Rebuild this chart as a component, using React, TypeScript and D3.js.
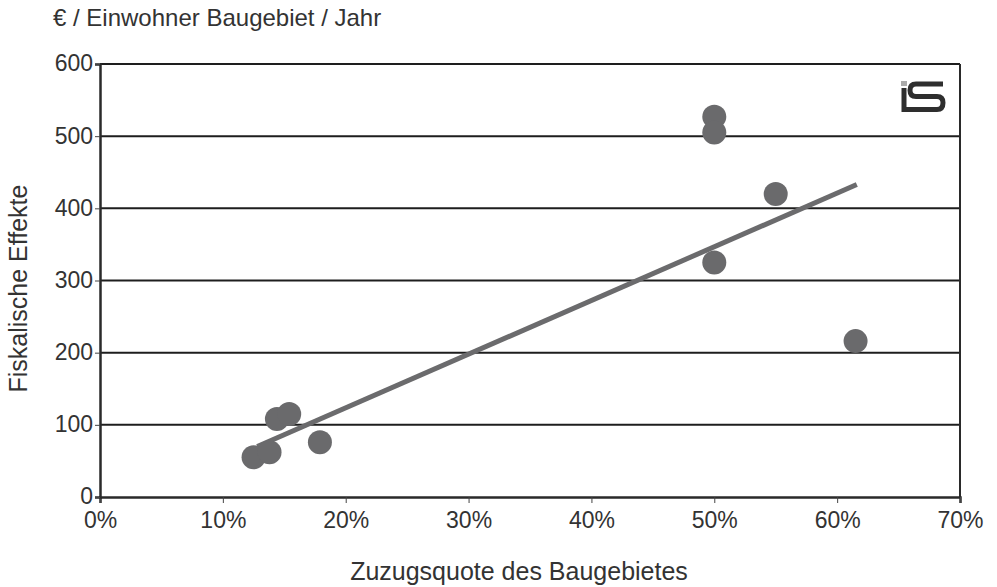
import React, { useEffect, useRef } from 'react';
import * as d3 from 'd3';

// Zuzugsquote (in %) und fiskalische Effekte (€ / Einwohner / Jahr)
const zuzugsquote = [12.5, 13.8, 14.4, 15.4, 17.9, 50.0, 50.0, 55.0, 50.0, 61.5];
const fiskalEffekte = [55, 62, 108, 115, 76, 527, 505, 420, 325, 216];

// Trendlinie: Anfangs- und Endpunkt
const trendX = [12.8, 61.6];
const trendY = [70, 433];

const xTicks = [0, 10, 20, 30, 40, 50, 60, 70];
const yTicks = [0, 100, 200, 300, 400, 500, 600];

const titleText = '€ / Einwohner Baugebiet / Jahr';
const xLabel = 'Zuzugsquote des Baugebietes';
const yLabel = 'Fiskalische Effekte';

const W = 997;
const H = 587;
const FONT = '"Liberation Sans", Arial, sans-serif';

const App = () => {
  const svgRef = useRef(null);

  useEffect(() => {
    const svg = d3.select(svgRef.current);
    svg.selectAll('*').remove();

    const margin = { top: 64, right: 37, bottom: 90, left: 100 };
    const x = d3.scaleLinear().domain([0, 70]).range([margin.left, W - margin.right]);
    const y = d3.scaleLinear().domain([0, 600]).range([H - margin.bottom, margin.top]);

    // Gitterlinien
    svg
      .append('g')
      .selectAll('line')
      .data(yTicks.filter((t) => t > 0))
      .enter()
      .append('line')
      .attr('x1', x(0))
      .attr('x2', x(70))
      .attr('y1', (d) => y(d))
      .attr('y2', (d) => y(d))
      .attr('stroke', '#1e1e1e')
      .attr('stroke-width', 2);

    // rechter Rahmen
    svg
      .append('line')
      .attr('x1', x(70))
      .attr('x2', x(70))
      .attr('y1', y(600))
      .attr('y2', y(0))
      .attr('stroke', '#2a2a2a')
      .attr('stroke-width', 2);

    // Achsen
    const xAxis = d3
      .axisBottom(x)
      .tickValues(xTicks)
      .tickSize(6)
      .tickFormat((d) => `${d}%`);
    const gx = svg.append('g').attr('transform', `translate(0, ${y(0)})`).call(xAxis);
    gx.select('.domain').attr('stroke', '#2a2a2a').attr('stroke-width', 2.5);
    gx.selectAll('.tick line').attr('stroke', '#444').attr('stroke-width', 1);
    gx.selectAll('text')
      .attr('fill', '#333')
      .attr('y', 15)
      .style('font-size', '23px')
      .style('font-family', FONT);

    const yAxis = d3.axisLeft(y).tickValues(yTicks).tickSize(5);
    const gy = svg.append('g').attr('transform', `translate(${x(0)}, 0)`).call(yAxis);
    gy.select('.domain').attr('stroke', '#2a2a2a').attr('stroke-width', 2.5);
    gy.selectAll('.tick line').attr('stroke', '#444').attr('stroke-width', 1);
    gy.selectAll('text')
      .attr('fill', '#333')
      .attr('x', -7)
      .attr('dy', '0.3em')
      .style('font-size', '23px')
      .style('font-family', FONT);

    // Trendlinie
    const line = d3
      .line()
      .x((d) => x(d[0]))
      .y((d) => y(d[1]));
    svg
      .append('path')
      .datum(d3.zip(trendX, trendY))
      .attr('d', line)
      .attr('fill', 'none')
      .attr('stroke', '#6b6b6d')
      .attr('stroke-width', 5);

    // Punkte
    svg
      .append('g')
      .selectAll('circle')
      .data(d3.zip(zuzugsquote, fiskalEffekte))
      .enter()
      .append('circle')
      .attr('cx', (d) => x(d[0]))
      .attr('cy', (d) => y(d[1]))
      .attr('r', 12)
      .attr('fill', '#6a6a6c');

    // Logo
    const logo = svg.append('g').attr('transform', 'translate(900, 80)');
    logo.append('rect').attr('x', 1).attr('y', 1).attr('width', 6).attr('height', 5).attr('fill', '#aaa');
    logo
      .append('path')
      .attr('d', 'M43,4 H16 Q10,4 10,10.2 Q10,16.5 16,16.5 H37 Q43,16.5 43,22.8 Q43,29.5 37,29.5 H4 V8')
      .attr('fill', 'none')
      .attr('stroke', '#2e2e2e')
      .attr('stroke-width', 5);

    // Beschriftungen
    svg
      .append('text')
      .attr('x', 53)
      .attr('y', 26)
      .attr('fill', '#333')
      .style('font-size', '24px')
      .style('font-family', FONT)
      .text(titleText);

    svg
      .append('text')
      .attr('x', (x(0) + x(70)) / 2 - 11)
      .attr('y', 580)
      .attr('text-anchor', 'middle')
      .attr('fill', '#333')
      .style('font-size', '25px')
      .style('font-family', FONT)
      .text(xLabel);

    svg
      .append('text')
      .attr('transform', `translate(27, ${(y(0) + y(600)) / 2 + 8}) rotate(-90)`)
      .attr('text-anchor', 'middle')
      .attr('fill', '#333')
      .style('font-size', '25px')
      .style('font-family', FONT)
      .text(yLabel);
  }, []);

  return (
    <div style={{ position: 'absolute', left: 0, top: 0 }}>
      <svg ref={svgRef} width={W} height={H} style={{ display: 'block', background: '#fff' }} />
    </div>
  );
};

export default App;
